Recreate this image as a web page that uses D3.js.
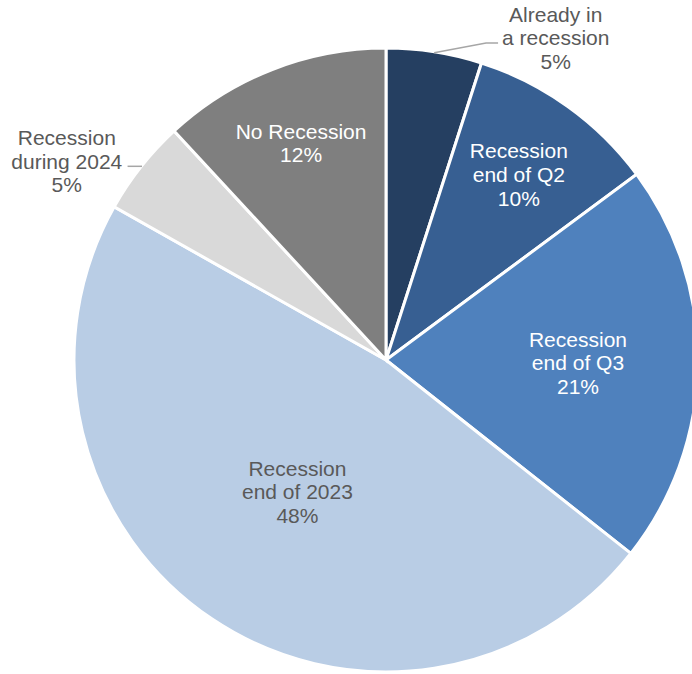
<!DOCTYPE html>
<html>
<head>
<meta charset="utf-8">
<script src="https://cdn.jsdelivr.net/npm/d3@7"></script>
<style>
  html, body { margin: 0; padding: 0; background: #ffffff; }
  svg { display: block; }
  text { font-family: "Liberation Sans", Arial, sans-serif; }
</style>
</head>
<body>
<div id="chart"></div>
<script>
// Survey: when will the recession arrive?
const categories = [
  "Already in a recession",
  "Recession end of Q2",
  "Recession end of Q3",
  "Recession end of 2023",
  "Recession during 2024",
  "No Recession"
];
const labelLines = [
  ["Already in", "a recession"],
  ["Recession", "end of Q2"],
  ["Recession", "end of Q3"],
  ["Recession", "end of 2023"],
  ["Recession", "during 2024"],
  ["No Recession"]
];
const values = [5, 10, 21, 48, 5, 12];
const colors = ["#253F61", "#375F92", "#4F81BD", "#B9CDE5", "#D9D9D9", "#7F7F7F"];
const textColors = ["#595959", "#ffffff", "#ffffff", "#595959", "#595959", "#ffffff"];

// Label placement: inside labels sit on the slice bisector at radius r;
// outside labels have their own angle (degrees) and a leader line.
const placement = [
  { outside: true, angle: 27.8, r: 364, side: "right" },
  { r: 228 },
  { r: 192 },
  { r: 159 },
  { outside: true, angle: 301.9, r: 376, side: "left" },
  { r: 233 }
];

const width = 692, height = 674;
const cx = 386, cy = 360, radius = 312;
const fontSize = 21, lineH = 23.6;

const svg = d3.select("#chart").append("svg")
  .attr("width", width).attr("height", height);

const g = svg.append("g").attr("transform", `translate(${cx},${cy})`);

const pie = d3.pie().sort(null).value(d => d);
const arcs = pie(values);
const arc = d3.arc().innerRadius(0).outerRadius(radius);

g.selectAll("path.slice")
  .data(arcs)
  .join("path")
  .attr("class", "slice")
  .attr("d", arc)
  .attr("fill", (d, i) => colors[i])
  .attr("stroke", "#ffffff")
  .attr("stroke-width", 3)
  .attr("stroke-linejoin", "miter");

function polar(angleRad, r) {
  return [Math.sin(angleRad) * r, -Math.cos(angleRad) * r];
}

arcs.forEach((d, i) => {
  const p = placement[i];
  const mid = (d.startAngle + d.endAngle) / 2;
  const ang = p.outside ? p.angle * Math.PI / 180 : mid;
  const [lx, ly] = polar(ang, p.r);
  const lines = labelLines[i].concat([values[i] + "%"]);
  const n = lines.length;

  const t = g.append("text")
    .attr("text-anchor", "middle")
    .attr("font-size", fontSize)
    .attr("fill", textColors[i]);
  lines.forEach((s, k) => {
    t.append("tspan")
      .attr("x", lx)
      .attr("y", ly + (k - (n - 1) / 2) * lineH + fontSize * 0.35)
      .text(s);
  });

  if (p.outside) {
    const bb = t.node().getBBox();
    const [ax, ay] = polar(mid, radius - 1);
    const yLine = ly + 5;
    let pts;
    if (p.side === "right") {
      const ex = bb.x - 4;
      pts = [[ax, ay], [ex - 12, yLine], [ex, yLine]];
    } else {
      const ex = bb.x + bb.width + 5;
      pts = [[ax, yLine], [ex, yLine]];
    }
    g.append("path")
      .attr("d", d3.line()(pts))
      .attr("fill", "none")
      .attr("stroke", "#a6a6a6")
      .attr("stroke-width", 1.5);
  }
});
</script>
</body>
</html>
